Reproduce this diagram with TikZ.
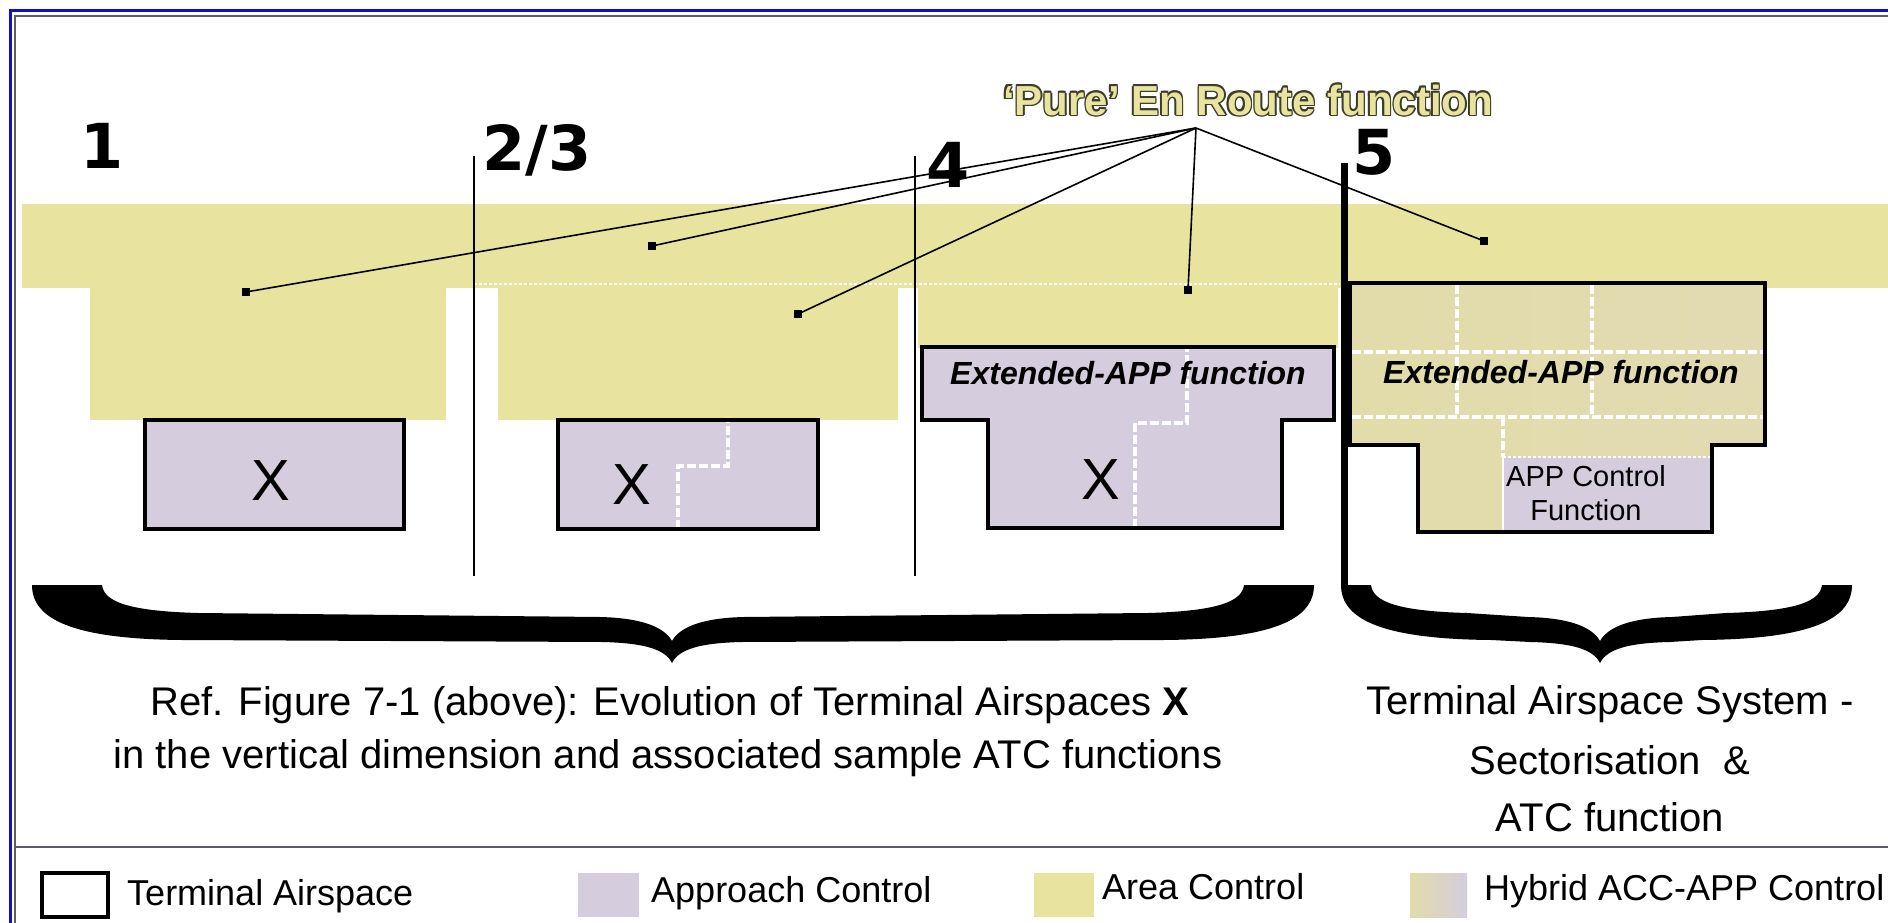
\documentclass[tikz,border=0pt]{standalone}
\usepackage{fontspec}
\setmainfont{Liberation Sans}
\newfontfamily\heavyfont{DejaVu Sans}
\usetikzlibrary{calc}
\definecolor{acc}{HTML}{E8E4A0}
\definecolor{apc}{HTML}{D5CDDE}
\definecolor{hybL}{HTML}{E2DCAA}
\definecolor{hybM}{HTML}{DAD2C8}
\definecolor{hybR}{HTML}{E2DBB2}
\definecolor{frameblue}{HTML}{1010C0}
\definecolor{framegray}{HTML}{5A5A6A}
\definecolor{titleedge}{HTML}{3C3C28}
% left x, right x, tip x, hook width
\newcommand{\curlybrace}[4]{%
  \fill[black] (#1,585) -- ({#1+#4},585)
    .. controls ({#1+#4+2},601) and ({#1+#4+24},611) .. ({#1+#4+96},613)
    -- ({#3-72},617)
    .. controls ({#3-30},618) and ({#3-8},627) .. (#3,641)
    .. controls ({#3+8},627) and ({#3+30},618) .. ({#3+72},617)
    -- ({#2-#4-96},613)
    .. controls ({#2-#4-24},611) and ({#2-#4-2},601) .. ({#2-#4},585)
    -- (#2,585)
    .. controls (#2,619) and ({#2-40},639) .. ({#2-150},640)
    -- ({#3+70},642)
    .. controls ({#3+28},643) and ({#3+7},649) .. (#3,663)
    .. controls ({#3-7},649) and ({#3-28},643) .. ({#3-70},642)
    -- ({#1+150},640)
    .. controls ({#1+40},639) and (#1,619) .. (#1,585) -- cycle;}

\begin{document}
\begin{tikzpicture}[x=1pt,y=-1pt,
    tabox/.style={draw=black,line width=4.5pt,line join=miter},
    sepline/.style={white,line width=4.5pt,dash pattern=on 9pt off 3pt},
    thinsep/.style={white,line width=2pt,dash pattern=on 3pt off 2pt},
    leaddot/.style={fill=black,inner sep=0pt,minimum size=8pt},
    airx/.style={font=\fontsize{58}{58}\selectfont,inner sep=0pt},
    extlabel/.style={font=\bfseries\itshape\fontsize{32}{32}\selectfont,inner sep=0pt},
    numlabel/.style={font=\heavyfont\bfseries\fontsize{62}{62}\selectfont,inner sep=0pt},
    routelabel/.style={font=\bfseries\fontsize{42}{42}\selectfont,inner sep=0pt},
    caplabel/.style={font=\fontsize{40}{48}\selectfont,inner sep=0pt,anchor=base},
    legtext/.style={font=\fontsize{36}{40}\selectfont,inner sep=0pt,anchor=base west}]

    \useasboundingbox (0,0) rectangle (1888,923);
    \fill[white] (0,0) rectangle (1888,923);

    % frame
    \draw[frameblue,line width=3pt] (10,923) -- (10,11) -- (1888,11);
    \draw[framegray,line width=2pt] (15,923) -- (15,16) -- (1888,16);
    \draw[framegray,line width=2.5pt] (15,847) -- (1888,847);

    % area control
    \fill[acc] (22,204) rectangle (1888,288);
    \fill[acc] (90,288) rectangle (446,420);
    \fill[acc] (498,288) rectangle (898,420);
    \fill[acc] (918,288) rectangle (1338,348);
    \draw[thinsep] (474,284) -- (1340,284);

    % 1 and 2/3
    \fill[apc] (145,420) rectangle (404,529);
    \draw[tabox] (145,420) rectangle (404,529);
    \fill[apc] (558,420) rectangle (818,529);
    \draw[sepline] (678,529) -- (678,466) -- (728,466) -- (728,420);
    \draw[tabox] (558,420) rectangle (818,529);

    % 4
    \fill[apc] (922,347) -- (1334,347) -- (1334,420) -- (1282,420) -- (1282,528)
        -- (988,528) -- (988,420) -- (922,420) -- cycle;
    \draw[sepline] (1135,528) -- (1135,423) -- (1187,423) -- (1187,347);
    \draw[tabox] (922,347) -- (1334,347) -- (1334,420) -- (1282,420) -- (1282,528)
        -- (988,528) -- (988,420) -- (922,420) -- cycle;

    % 5
    \shade[left color=hybL,middle color=hybM,right color=hybR]
        (1350,283) -- (1765,283) -- (1765,445) -- (1712,445) -- (1712,532)
        -- (1418,532) -- (1418,445) -- (1350,445) -- cycle;
    \fill[apc] (1503,457) rectangle (1712,532);
    \draw[white,line width=1.5pt] (1503,457) -- (1503,532);
    \draw[thinsep] (1503,457) -- (1712,457);
    \draw[sepline] (1352,352) -- (1763,352);
    \draw[sepline] (1352,417) -- (1763,417);
    \draw[sepline] (1457,285) -- (1457,417);
    \draw[sepline] (1592,285) -- (1592,417);
    \draw[sepline] (1503,417) -- (1503,457);
    \draw[tabox] (1350,283) -- (1765,283) -- (1765,445) -- (1712,445) -- (1712,532)
        -- (1418,532) -- (1418,445) -- (1350,445) -- cycle;

    % dividers
    \draw[line width=1.8pt] (474,156) -- (474,576);
    \draw[line width=1.8pt] (915,156) -- (915,576);
    \draw[line width=7pt] (1344,163) -- (1344,586);

    % braces
    \curlybrace{32}{1314}{672}{70}
    \curlybrace{1341}{1852}{1600}{30}

    % stage numbers
    \node[numlabel] (n1) at (102,146) {1};
    \node[numlabel] (n23) at (537,150) {2/3};
    \node[numlabel] (n4) at (948,165) {4};
    \node[numlabel] (n5) at (1374,152) {5};

    % en route
    \foreach \dx/\dy in {-1.6/0,1.6/0,0/-1.6,0/1.6,-1.1/-1.1,1.1/1.1,-1.1/1.1,1.1/-1.1}
        \node[routelabel,text=titleedge] at ({1248+\dx},{100+\dy}) {`Pure' En Route function};
    \node[routelabel,text=acc] (title) at (1248,100) {`Pure' En Route function};
    \coordinate (hub) at (1196,128);
    \node[leaddot] (p1) at (246,292) {};
    \node[leaddot] (p2) at (652,246) {};
    \node[leaddot] (p3) at (798,314) {};
    \node[leaddot] (p4) at (1188,290) {};
    \node[leaddot] (p5) at (1484,241) {};
    \foreach \p in {p1,p2,p3,p4,p5}
        \draw[line width=1.6pt] (hub) -- (\p.center);

    % box labels
    \node[airx] (x1) at (271,481) {X};
    \node[airx] (x23) at (632,485) {X};
    \node[airx] (x4) at (1101,480) {X};
    \node[extlabel] (ext4) at (1128,373) {Extended-APP function};
    \node[extlabel] (ext5) at (1561,372) {Extended-APP function};
    \node[font=\fontsize{29}{34}\selectfont,align=center,inner sep=0pt] (appfn) at (1586,493)
        {APP Control\\Function};

    % captions
    \node[caplabel] (capa) at (670,715) {Ref. Figure 7-1 (above): Evolution of Terminal Airspaces \textbf{X}};
    \node[caplabel] (capb) at (668,768) {in the vertical dimension and associated sample ATC functions};
    \node[caplabel] (capc) at (1610,714) {Terminal Airspace System -};
    \node[caplabel] (capd) at (1610,774) {Sectorisation~ \&};
    \node[caplabel] (cape) at (1610,831) {ATC function};

    % legend
    \draw[line width=4pt] (42,873) rectangle (108,917);
    \node[legtext] (lta) at (127,905) {Terminal Airspace};
    \fill[apc] (578,873) rectangle (639,917);
    \node[legtext] (lapp) at (651,902) {Approach Control};
    \fill[acc] (1034,873) rectangle (1094,917);
    \node[legtext] (lacc) at (1102,899) {Area Control};
    \shade[left color=hybL,right color=apc] (1410,873) rectangle (1467,917);
    \node[legtext] (lhyb) at (1484,900) {Hybrid ACC-APP Control};
\end{tikzpicture}
\end{document}
